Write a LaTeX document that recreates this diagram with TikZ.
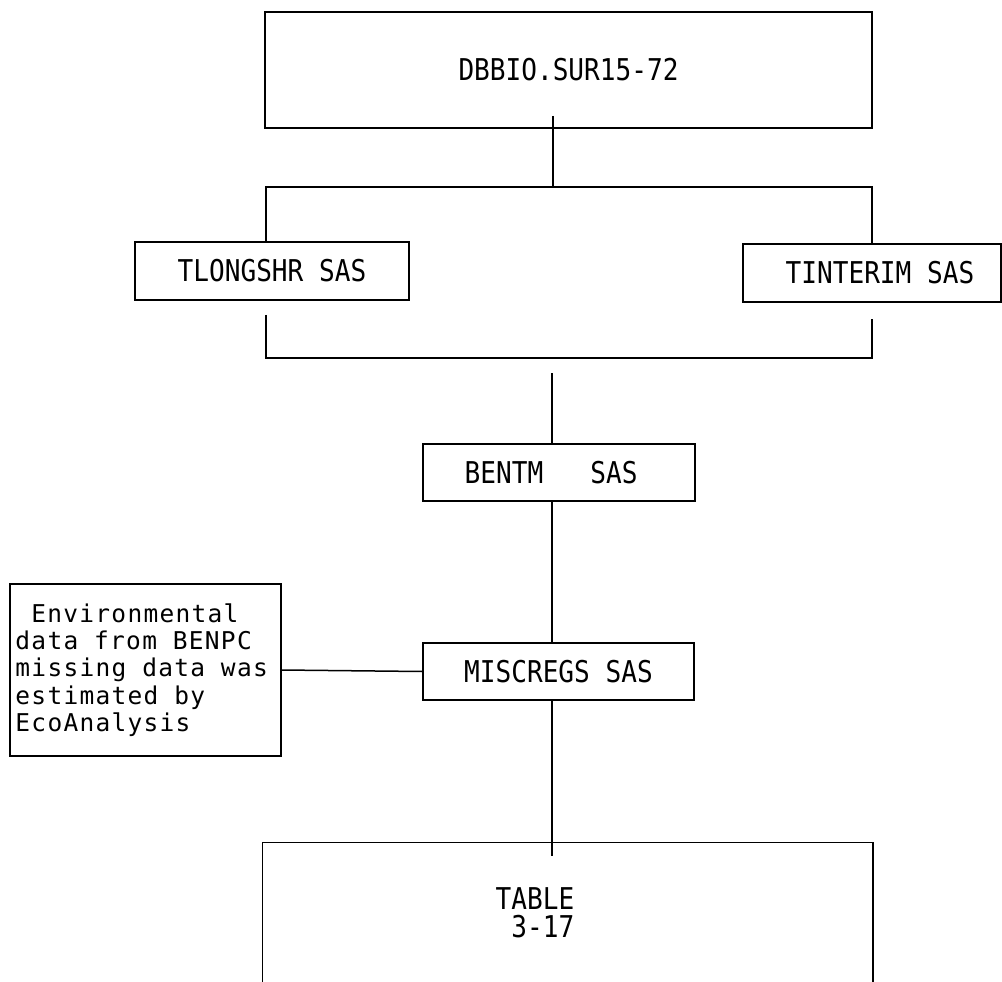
\documentclass[tikz,border=0pt]{standalone}
\usepackage{fontspec}
\newfontfamily\plotfont[FakeStretch=0.87]{DejaVu Sans Mono}
\newfontfamily\notefont[LetterSpace=5.2]{DejaVu Sans Mono}
\newcommand\monospc{\fontdimen2\font=\fontcharwd\font`0\relax\fontdimen3\font=0pt\relax\fontdimen4\font=0pt\relax}
\newcommand\notespc{\fontdimen2\font=15.9pt\relax\fontdimen3\font=0pt\relax\fontdimen4\font=0pt\relax}
\begin{document}
\begin{tikzpicture}[x=1pt,y=-1pt,line width=1.5pt,
  box/.style={draw,rectangle,inner sep=0pt,font=\plotfont\fontsize{30}{28}\selectfont\monospc},
  notebox/.style={draw,rectangle,inner sep=0pt,align=flush left,font=\notefont\fontsize{24.5}{27.3}\selectfont\notespc},
  lbl/.style={inner sep=0pt,align=flush left,font=\plotfont\fontsize{30}{28}\selectfont\monospc}]
\useasboundingbox (0,0) rectangle (1002,982);
% boxes
\node[box,minimum width=607pt,minimum height=116pt] (top) at (568.5,70) {DBBIO.SUR15-72\hspace{15pt}};
\node[box,minimum width=274pt,minimum height=58pt] (tlong) at (272,271) {TLONGSHR SAS};
\node[box,minimum width=258pt,minimum height=58pt] (tint) at (872,273) {\hspace{16pt}TINTERIM SAS};
\node[box,minimum width=272pt,minimum height=57pt] (bentm) at (559,472.5) {BENTM\phantom{000}SAS\phantom{0}};
\node[box,minimum width=271pt,minimum height=57pt] (misc) at (558.5,671.5) {MISCREGS SAS};
\node[notebox,minimum width=271pt,minimum height=172pt,text width=260pt] (env) at (145.5,670)
  {\spaceskip=15.9pt\relax\hspace*{15.9pt}Environmental\\data from BENPC\\missing data was\\estimated by\\EcoAnalysis};
\node[inner sep=0pt,minimum width=609pt,minimum height=139pt] (tablebox) at (567.5,912.5) {};
\draw (tablebox.south west) -- (tablebox.north west) -- (tablebox.north east) -- (tablebox.south east);
\node[lbl] (tabletext) at (535,913) {TABLE\\\phantom{0}3-17};
% connector points
\coordinate (bt) at (553,187);
\coordinate (btl) at (266,187);
\coordinate (btr) at (872,187);
\coordinate (bb) at (552,358);
\coordinate (bbl) at (266,358);
\coordinate (bbr) at (872,358);
% connectors
\draw[shorten <=-13pt] (top.south -| bt) -- (bt);
\draw (tlong.north -| btl) -- (btl) -- (btr) -- (tint.north -| btr);
\draw[shorten <=14pt,shorten >=16pt] (tlong.south -| bbl) -- (bbl) -- (bbr) -- (tint.south -| bbr);
\draw[shorten <=15pt] (bb) -- (bentm.north -| bb);
\draw (bentm.south -| bb) -- (misc.north -| bb);
\draw[shorten >=-14pt] (misc.south -| bb) -- (tablebox.north -| bb);
\draw (env.east) -- (misc.west);
\end{tikzpicture}
\end{document}
